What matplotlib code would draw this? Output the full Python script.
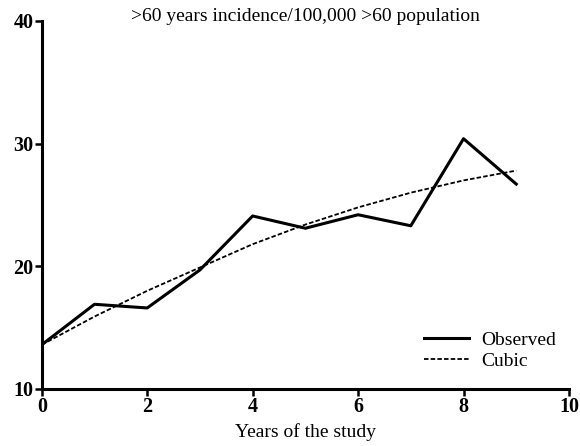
import matplotlib
matplotlib.use("Agg")
import matplotlib.pyplot as plt

years = [0, 1, 2, 3, 4, 5, 6, 7, 8, 9]
observed = [13.6, 16.9, 16.6, 19.7, 24.1, 23.1, 24.2, 23.3, 30.4, 26.7]
cubic = [13.6, 15.9, 18.0, 19.9, 21.8, 23.4, 24.8, 26.0, 27.0, 27.8]
xticks = [0, 2, 4, 6, 8, 10]
yticks = [10, 20, 30, 40]

plt.rcParams['font.family'] = ['Liberation Serif', 'DejaVu Serif']

fig = plt.figure(figsize=(5.8, 4.46), dpi=100)
ax = fig.add_axes([0.072, 0.128, 0.909, 0.825])

ax.plot(years, observed, color='black', lw=2.2, label='Observed')
ax.plot(years, cubic, color='black', lw=1.3, ls=(0, (2.5, 1.2)), label='Cubic')

ax.set_xlim(0, 10)
ax.set_ylim(10, 40)
ax.set_xticks(xticks)
ax.set_yticks(yticks)
for s in ['top', 'right']:
    ax.spines[s].set_visible(False)
for s in ['left', 'bottom']:
    ax.spines[s].set_linewidth(2.2)
ax.tick_params(direction='out', length=5, width=1.8, labelsize=14.5, pad=1)
for lab in ax.get_xticklabels() + ax.get_yticklabels():
    lab.set_fontweight('bold')

ax.set_xlabel('Years of the study', fontsize=14, labelpad=4)
fig.text(0.527, 0.962, '>60 years incidence/100,000 >60 population', fontsize=14,
         ha='center', va='center')

leg = ax.legend(loc='lower right', frameon=False, fontsize=14, handlelength=2.3,
                bbox_to_anchor=(1.008, 0.005), labelspacing=0.15, handletextpad=0.6)

fig.savefig('out.png', dpi=100)
